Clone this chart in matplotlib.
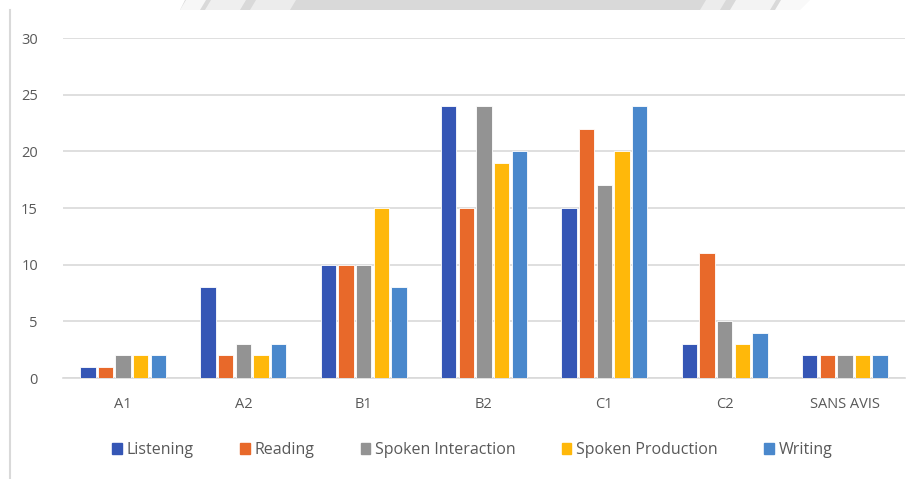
import matplotlib
matplotlib.use("Agg")
import matplotlib.pyplot as plt
import numpy as np
from matplotlib.patches import Polygon, Rectangle
from matplotlib.lines import Line2D

categories = ["A1", "A2", "B1", "B2", "C1", "C2", "SANS AVIS"]
series_names = ["Listening", "Reading", "Spoken Interaction", "Spoken Production", "Writing"]
listening = [1, 8, 10, 24, 15, 3, 2]
reading = [1, 2, 10, 15, 22, 11, 2]
spoken_interaction = [2, 3, 10, 24, 17, 5, 2]
spoken_production = [2, 2, 15, 19, 20, 3, 2]
writing = [2, 3, 8, 20, 24, 4, 2]
yticks = [0, 5, 10, 15, 20, 25, 30]

series = [listening, reading, spoken_interaction, spoken_production, writing]
colors = ["#3556B5", "#E8692A", "#939393", "#FFB80A", "#4A88CC"]

plt.rcParams['font.family'] = ['Open Sans', 'DejaVu Sans']

W, H = 917, 479
fig = plt.figure(figsize=(W / 100, H / 100), dpi=100)
fig.patch.set_facecolor("white")

ax = fig.add_axes([63 / W, 1 - 378 / H, (905 - 63) / W, (378 - 38) / H])

x = np.arange(len(categories))
slot = 0.1467
bw = 0.128
for i, (vals, c, name) in enumerate(zip(series, colors, series_names)):
    ax.bar(x + (i - 2) * slot, vals, width=bw, color=c, edgecolor="white",
           linewidth=0.6, label=name, zorder=3)

ax.set_xlim(-0.5, len(categories) - 0.5)
ax.set_ylim(0, 30)
ax.set_yticks(yticks)
ax.set_xticks(x)
ax.set_xticklabels(categories)
ax.grid(axis="y", color="#D9D9D9", linewidth=1.2, zorder=0)
for s in ["top", "right", "left"]:
    ax.spines[s].set_visible(False)
ax.spines["bottom"].set_color("#D9D9D9")
ax.spines["bottom"].set_linewidth(1.2)
ax.tick_params(axis="both", length=0, colors="#595959", labelsize=10.5)
ax.tick_params(axis="x", pad=14)
ax.tick_params(axis="y", pad=18)

handles = [Rectangle((0, 0), 1, 1, color=c) for c in colors]
fig.legend(handles, series_names, loc="center", bbox_to_anchor=(0.515, 1 - 450 / H),
           ncol=5, frameon=False, fontsize=11.5, handlelength=0.6, handleheight=0.7,
           handletextpad=0.3, columnspacing=2.9, labelcolor="#595959")

# decorative top band
band = Polygon([[185 / W, 1], [810 / W, 1], [800 / W, 1 - 10 / H], [180 / W, 1 - 10 / H]],
               closed=True, transform=fig.transFigure, facecolor="#D9D9D9",
               edgecolor="none")
fig.patches.append(band)
for (x0, x1, a) in [(180, 200, 0.8), (205, 240, 0.6), (250, 290, 0.5), (700, 720, 0.5),
                    (730, 770, 0.7), (775, 810, 0.85)]:
    streak = Polygon([[(x0 + 6) / W, 1], [(x1 + 6) / W, 1], [x1 / W, 1 - 10 / H], [x0 / W, 1 - 10 / H]],
                     closed=True, transform=fig.transFigure, facecolor="white",
                     edgecolor="none", alpha=a)
    fig.patches.append(streak)

# left border line
fig.lines.append(Line2D([10 / W, 10 / W], [0, 1 - 10 / H], transform=fig.transFigure,
                        color="#D9D9D9", linewidth=1.5))

fig.savefig("out.png", dpi=100, facecolor="white")
